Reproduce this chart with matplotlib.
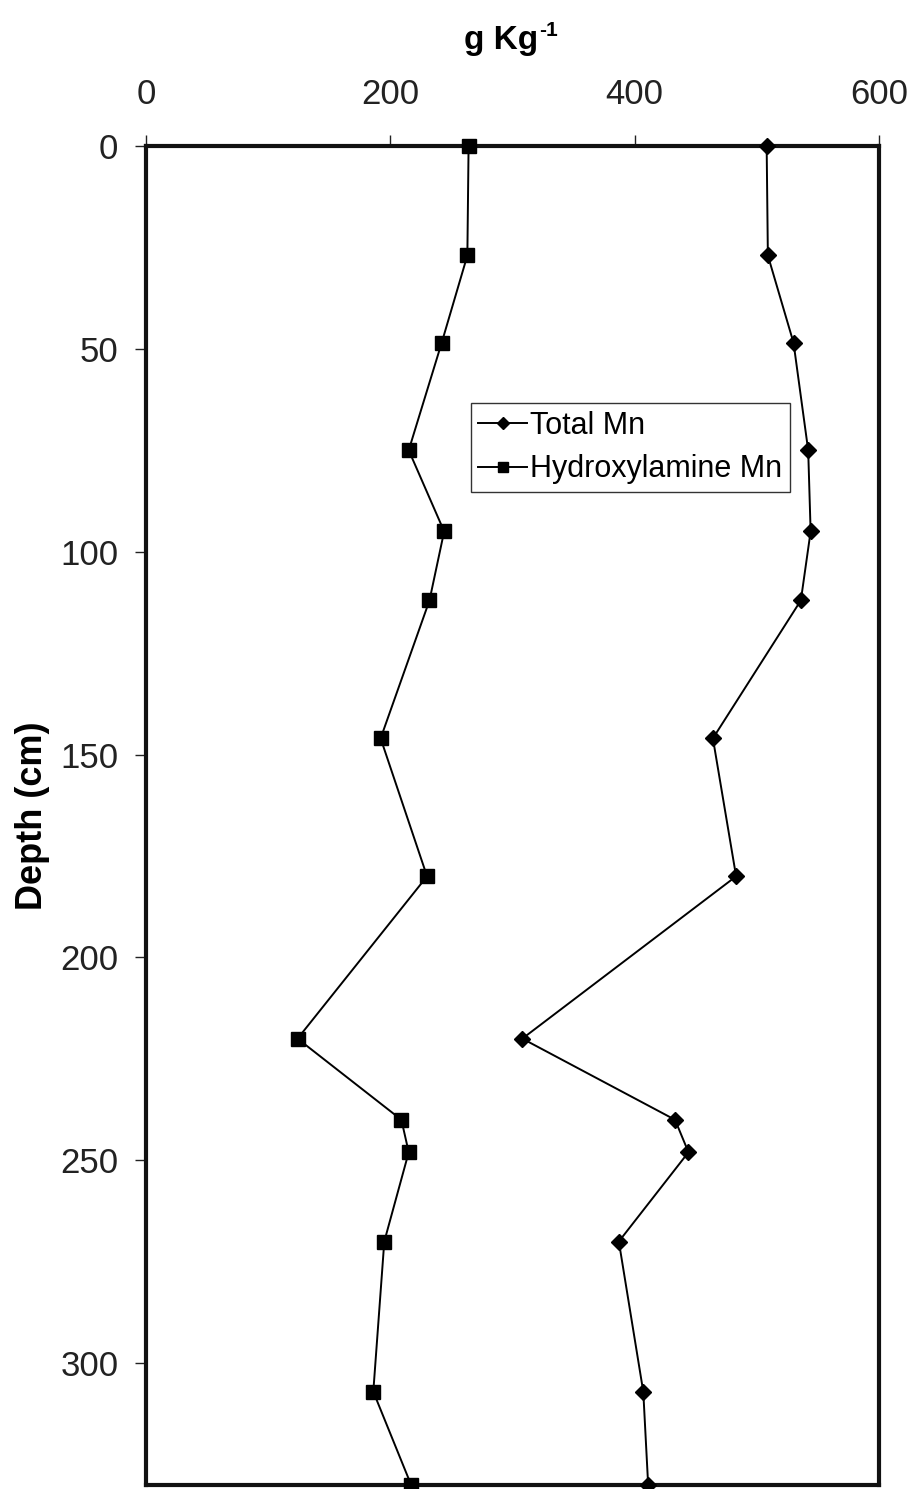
import matplotlib
matplotlib.use("Agg")
import matplotlib.pyplot as plt

plt.rcParams['font.family'] = ['Liberation Sans', 'DejaVu Sans']

# depth profile, cm
depth = [0, 27, 48.5, 75, 95, 112, 146, 180, 220, 240, 248, 270, 307, 330]
total_mn = [508, 509, 530, 542, 544, 536, 464, 483, 308, 433, 444, 387, 407, 411]
hydroxylamine_mn = [264, 263, 242, 215, 244, 232, 192, 230, 124, 209, 215, 195, 186, 217]

fig = plt.figure(figsize=(9.13, 14.89), dpi=100)
ax = fig.add_axes([0.16, 0.0027, 0.8028, 0.8993])

ax.plot(total_mn, depth, color='black', lw=1.4, marker='D', ms=8,
        markerfacecolor='black', label='Total Mn', clip_on=False, zorder=3)
ax.plot(hydroxylamine_mn, depth, color='black', lw=1.4, marker='s', ms=9.5,
        markerfacecolor='black', label='Hydroxylamine Mn', clip_on=False, zorder=3)

ax.set_xlim(0, 600)
ax.set_ylim(330, 0)
ax.set_xticks([0, 200, 400, 600])
ax.set_yticks([0, 50, 100, 150, 200, 250, 300])

ax.xaxis.set_ticks_position('top')
ax.tick_params(axis='both', which='major', labelsize=25, direction='out',
               length=8, width=1, pad=12, colors='#222222')
ax.tick_params(axis='x', pad=17)

for side in ax.spines.values():
    side.set_linewidth(3)
    side.set_color('#111111')

# unit label with a plain "-1" superscript
unit = fig.text(0.549, 0.967, 'g Kg', fontsize=24, fontweight='bold',
                ha='center', va='baseline')
ax.annotate('-1', xy=(1.0, 1.0), xycoords=unit, xytext=(0.5, 3),
            textcoords='offset points', fontsize=15, fontweight='bold',
            ha='left', va='top')

ax.set_ylabel('Depth (cm)', fontsize=26, fontweight='bold', labelpad=7)

leg = ax.legend(loc='upper left', bbox_to_anchor=(0.443, 0.808), fontsize=22,
                frameon=True, fancybox=False, edgecolor='black',
                handlelength=1.6, handletextpad=0.1, borderpad=0.25,
                labelspacing=0.45, borderaxespad=0, markerscale=0.8)
leg.get_frame().set_linewidth(1.0)

fig.savefig('out.png', dpi=100, facecolor='white')
